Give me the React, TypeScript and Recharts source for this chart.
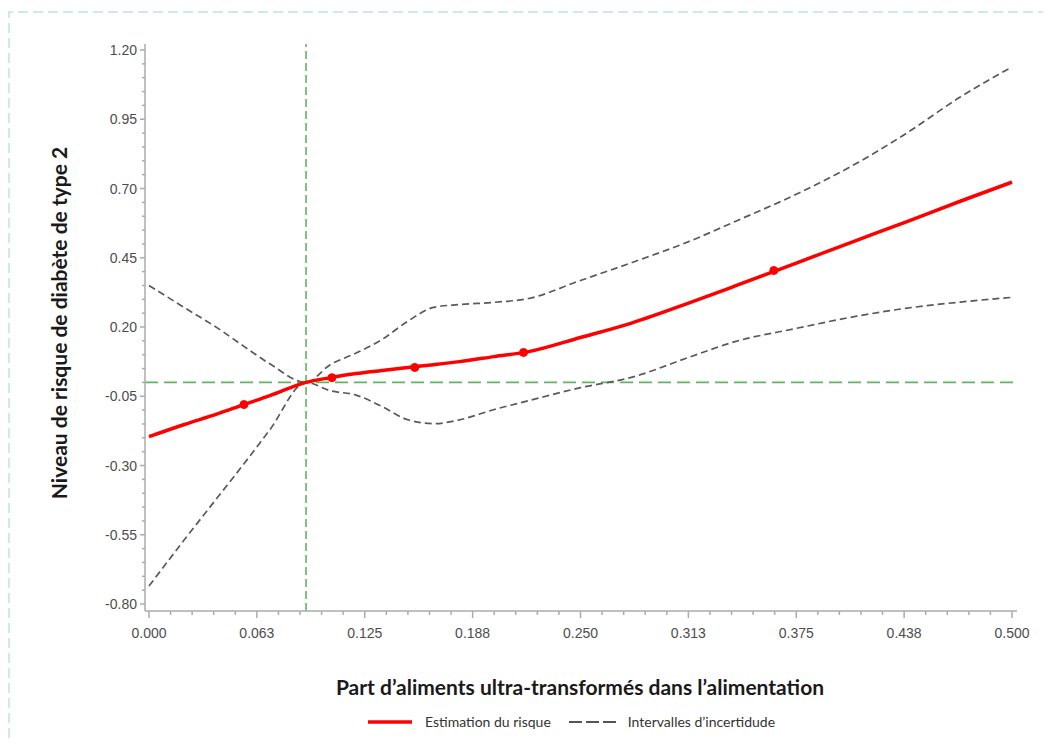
import { ComposedChart, Label, Line, ReferenceLine, XAxis, YAxis } from 'recharts';

// points (x = part d'aliments ultra-transformés)
const xValues = [0, 0.02, 0.04, 0.055, 0.07, 0.091, 0.105, 0.12, 0.135, 0.15, 0.165, 0.18, 0.2, 0.22, 0.25, 0.28, 0.313, 0.34, 0.375, 0.41, 0.438, 0.47, 0.5];
const estimate = [-0.196, -0.153, -0.113, -0.08, -0.048, 0, 0.017, 0.032, 0.043, 0.054, 0.064, 0.075, 0.093, 0.111, 0.162, 0.215, 0.287, 0.349, 0.431, 0.513, 0.578, 0.654, 0.723];
const upperBound = [0.35, 0.272, 0.195, 0.13, 0.067, 0, 0.064, 0.106, 0.155, 0.221, 0.271, 0.281, 0.289, 0.303, 0.368, 0.433, 0.509, 0.582, 0.679, 0.791, 0.896, 1.03, 1.139];
const lowerBound = [-0.735, -0.572, -0.413, -0.294, -0.171, 0, -0.03, -0.046, -0.087, -0.135, -0.149, -0.135, -0.098, -0.066, -0.019, 0.019, 0.091, 0.148, 0.195, 0.239, 0.267, 0.29, 0.307];

// noeuds marqués sur la courbe rouge
const knotX = [0.055, 0.106, 0.154, 0.217, 0.362];
const knotY = [-0.08, 0.017, 0.054, 0.108, 0.404];

const xTickLabels = ['0.000', '0.063', '0.125', '0.188', '0.250', '0.313', '0.375', '0.438', '0.500'];
const yTickLabels = ['-0.80', '-0.55', '-0.30', '-0.05', '0.20', '0.45', '0.70', '0.95', '1.20'];

const refX = 0.091;
const refY = 0;

const data = xValues.map((x, i) => ({
  x,
  estimate: estimate[i],
  upper: upperBound[i],
  lower: lowerBound[i]
}));
const knots = knotX.map((x, i) => ({ x, knot: knotY[i] }));

// ticks majeurs + 4 mineurs entre chaque
const xTicks = Array.from({ length: 41 }, (_, i) => Number((i * 0.0125).toFixed(4)));
const yTicks = Array.from({ length: 41 }, (_, i) => Number((-0.8 + i * 0.05).toFixed(2)));

const tickFont = {
  fontFamily: '"Liberation Sans", Arial, sans-serif',
  fontSize: 14,
  fill: '#4d4d4d'
};
const axisGrey = '#ababab';
const titleFont = '"Lato", "Open Sans", sans-serif';

function XTick(props: any) {
  const { x, y, payload } = props;
  const step = Math.round(payload.value / 0.0125);
  const major = step % 5 === 0;
  return (
    <g>
      <line x1={x} x2={x} y1={y} y2={y + (major ? 7 : 4)} stroke={axisGrey} strokeWidth={1.5} />
      {major && (
        <text x={x} y={y + 27} textAnchor="middle" {...tickFont}>
          {xTickLabels[step / 5]}
        </text>
      )}
    </g>
  );
}

function YTick(props: any) {
  const { x, y, payload } = props;
  const step = Math.round((payload.value + 0.8) / 0.05);
  const major = step % 5 === 0;
  return (
    <g>
      <line x1={x - (major ? 5 : 3)} x2={x} y1={y} y2={y} stroke={axisGrey} strokeWidth={1.5} />
      {major && (
        <text x={x - 8} y={y + 5} textAnchor="end" {...tickFont}>
          {yTickLabels[step / 5]}
        </text>
      )}
    </g>
  );
}

function ChartLegend() {
  return (
    <div
      style={{
        position: 'absolute',
        left: 360,
        top: 705,
        display: 'flex',
        alignItems: 'center',
        fontFamily: titleFont,
        fontSize: 14,
        lineHeight: '17px',
        color: '#333'
      }}
    >
      <svg width={44} height={10}>
        <line x1={0} x2={44} y1={5} y2={5} stroke="#ff0000" strokeWidth={3.5} />
      </svg>
      <span style={{ marginLeft: 13 }}>Estimation du risque</span>
      <svg width={47} height={10} style={{ marginLeft: 18 }}>
        <line x1={0} x2={47} y1={5} y2={5} stroke="#555" strokeWidth={1.8} strokeDasharray="13 4" />
      </svg>
      <span style={{ marginLeft: 12 }}>Intervalles d’incertidude</span>
    </div>
  );
}

export default function App() {
  return (
    <div style={{ position: 'relative', width: 1035, height: 733, overflow: 'hidden', background: '#fff' }}>
      <svg width={1035} height={733} style={{ position: 'absolute', left: 0, top: 0 }}>
        <path
          d="M1 760 L1 4 L1100 4"
          fill="none"
          stroke="#cfe8ef"
          strokeWidth={2}
          strokeDasharray="10 5"
        />
      </svg>
      <div style={{ position: 'absolute', left: 0, top: 0 }}>
        <ComposedChart
          width={1035}
          height={733}
          data={data}
          margin={{ top: 36, right: 26, bottom: 100, left: 0 }}
        >
          <XAxis
            dataKey="x"
            type="number"
            domain={[0, 0.5]}
            ticks={xTicks}
            interval={0}
            tick={<XTick />}
            tickSize={0}
            tickMargin={0}
            tickLine={false}
            axisLine={{ stroke: axisGrey, strokeWidth: 1.5 }}
            padding={{ left: 4, right: 5 }}
            height={30}
          >
            <Label
              content={() => (
                <text
                  x={572}
                  y={687}
                  textAnchor="middle"
                  fontFamily={titleFont}
                  fontWeight={700}
                  fontSize={21}
                  fill="#1a1a1a"
                >
                  Part d’aliments ultra-transformés dans l’alimentation
                </text>
              )}
            />
          </XAxis>
          <YAxis
            type="number"
            domain={[-0.8, 1.2]}
            ticks={yTicks}
            interval={0}
            tick={<YTick />}
            tickSize={0}
            tickMargin={0}
            tickLine={false}
            axisLine={{ stroke: axisGrey, strokeWidth: 1.5 }}
            padding={{ top: 6, bottom: 7 }}
            width={137}
          >
            <Label
              content={() => (
                <text
                  x={50}
                  y={315}
                  transform="rotate(-90 50 315)"
                  textAnchor="middle"
                  dominantBaseline="central"
                  fontFamily={titleFont}
                  fontWeight={700}
                  fontSize={21}
                  fill="#1a1a1a"
                >
                  Niveau de risque de diabète de type 2
                </text>
              )}
            />
          </YAxis>
          <ReferenceLine x={refX} stroke="#5cb85c" strokeWidth={1.6} strokeDasharray="8 4" />
          <ReferenceLine y={refY} stroke="#5cb85c" strokeWidth={1.6} strokeDasharray="13 6" />
          <Line
            dataKey="upper"
            type="monotone"
            stroke="#5a5a5a"
            strokeWidth={1.7}
            strokeDasharray="7 4"
            dot={false}
            isAnimationActive={false}
          />
          <Line
            dataKey="lower"
            type="monotone"
            stroke="#5a5a5a"
            strokeWidth={1.7}
            strokeDasharray="7 4"
            dot={false}
            isAnimationActive={false}
          />
          <Line
            dataKey="estimate"
            type="monotone"
            stroke="#ff0000"
            strokeWidth={3.5}
            dot={false}
            isAnimationActive={false}
          />
          <Line
            data={knots}
            dataKey="knot"
            stroke="none"
            dot={{ r: 4, fill: '#ff0000', stroke: '#ff0000' }}
            isAnimationActive={false}
          />
        </ComposedChart>
      </div>
      <ChartLegend />
    </div>
  );
}
